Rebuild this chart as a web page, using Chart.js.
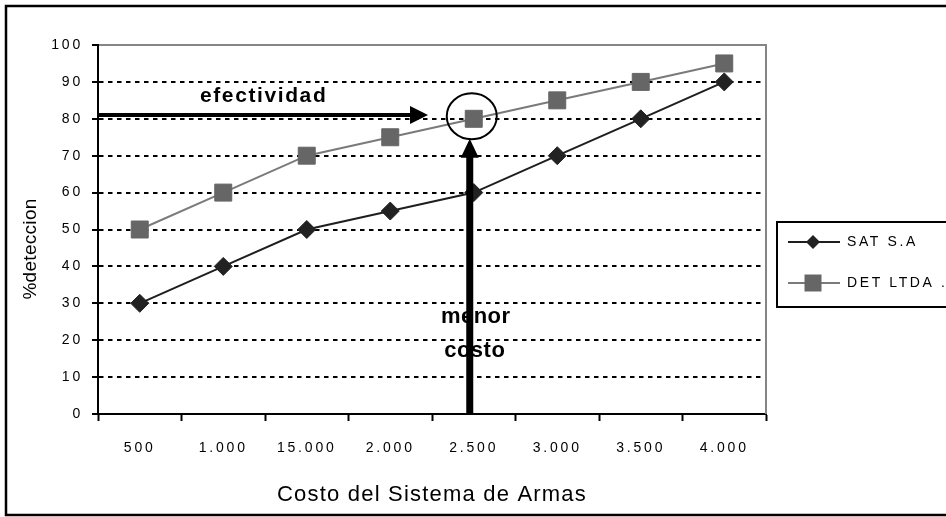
<!DOCTYPE html>
<html>
<head>
<meta charset="utf-8">
<title>%deteccion vs Costo del Sistema de Armas</title>
<script src="https://cdn.jsdelivr.net/npm/chart.js@4.4.1/dist/chart.umd.min.js"></script>
<style>
  html, body { margin: 0; padding: 0; background: #fff; }
  canvas { display: block; }
</style>
</head>
<body>
<canvas id="grafico" width="946" height="517"></canvas>
<script>
// --- datos ---
var COSTOS = ['500', '1.000', '15.000', '2.000', '2.500', '3.000', '3.500', '4.000'];
var SAT = [30, 40, 50, 55, 60, 70, 80, 90];
var DET = [50, 60, 70, 75, 80, 85, 90, 95];
var SERIES = ['SAT S.A', 'DET LTDA .'];
var Y_MIN = 0, Y_MAX = 100, Y_PASO = 10;

var FONT = '"Liberation Sans", Arial, Helvetica, sans-serif';

function texto(ctx, t, x, y, font, sp, align, base) {
    ctx.font = font;
    ctx.letterSpacing = sp + 'px';
    ctx.textAlign = align;
    ctx.textBaseline = base;
    ctx.fillStyle = '#000';
    ctx.fillText(t, x, y);
}

// tick labels of the original are letter-spaced
var espaciado = {
    id: 'espaciado',
    beforeDraw: function (chart) { chart.ctx.letterSpacing = '2.8px'; },
    afterDraw: function (chart) { chart.ctx.letterSpacing = '0px'; }
};

var marco = {
    id: 'marco',
    beforeDatasetsDraw: function (chart) {
        var ctx = chart.ctx, a = chart.chartArea;
        ctx.save();
        ctx.strokeStyle = '#858585';
        ctx.lineWidth = 2;
        ctx.beginPath();
        ctx.moveTo(a.left + 1, a.top);
        ctx.lineTo(a.right, a.top);
        ctx.lineTo(a.right, a.bottom);
        ctx.stroke();
        ctx.restore();
    },
    afterDatasetsDraw: function (chart) {
        var ctx = chart.ctx, a = chart.chartArea;
        var xs = chart.scales.x, ys = chart.scales.y;
        var cx = xs.getPixelForValue(4), cy = ys.getPixelForValue(80);
        ctx.save();
        // etiquetas de las flechas
        texto(ctx, 'efectividad', 200, 102, 'bold 21px ' + FONT, 1.6, 'left', 'alphabetic');
        texto(ctx, 'menor', cx + 2, 323, 'bold 22px ' + FONT, 0.5, 'center', 'alphabetic');
        texto(ctx, 'costo', cx + 1, 357, 'bold 22px ' + FONT, 0.5, 'center', 'alphabetic');
        ctx.fillStyle = '#000';
        ctx.strokeStyle = '#000';
        // flecha horizontal
        var hy = ys.getPixelForValue(81);
        ctx.lineWidth = 4;
        ctx.beginPath();
        ctx.moveTo(a.left, hy);
        ctx.lineTo(412, hy);
        ctx.stroke();
        ctx.beginPath();
        ctx.moveTo(410, hy - 9);
        ctx.lineTo(428, hy);
        ctx.lineTo(410, hy + 9);
        ctx.closePath();
        ctx.fill();
        // flecha vertical
        var vx = cx - 4;
        ctx.lineWidth = 7;
        ctx.beginPath();
        ctx.moveTo(vx, a.bottom - 1);
        ctx.lineTo(vx, cy + 36);
        ctx.stroke();
        ctx.beginPath();
        ctx.moveTo(vx - 9, cy + 39);
        ctx.lineTo(vx, cy + 20);
        ctx.lineTo(vx + 9, cy + 39);
        ctx.closePath();
        ctx.fill();
        // circulo
        ctx.lineWidth = 2;
        ctx.beginPath();
        ctx.ellipse(cx - 2, cy - 2.5, 25, 23, 0, 0, Math.PI * 2);
        ctx.stroke();
        ctx.restore();
    },
    afterDraw: function (chart) {
        var ctx = chart.ctx, a = chart.chartArea;
        ctx.save();
        // titulos de ejes
        texto(ctx, 'Costo del Sistema de Armas', (a.left + a.right) / 2, 501, '22px ' + FONT, 1.2, 'center', 'alphabetic');
        ctx.translate(31, 249);
        ctx.rotate(-Math.PI / 2);
        texto(ctx, '%deteccion', 0, 0, '19px ' + FONT, 0.3, 'center', 'middle');
        ctx.setTransform(1, 0, 0, 1, 0, 0);
        // leyenda
        ctx.strokeStyle = '#000';
        ctx.lineWidth = 2;
        ctx.strokeRect(777, 222, 200, 85);
        chart.data.datasets.forEach(function (ds, i) {
            var y = 242 + i * 41;
            ctx.strokeStyle = ds.borderColor;
            ctx.lineWidth = 2;
            ctx.beginPath();
            ctx.moveTo(788, y);
            ctx.lineTo(840, y);
            ctx.stroke();
            ctx.fillStyle = ds.pointBackgroundColor;
            ctx.beginPath();
            if (ds.pointStyle === 'rectRot') {
                ctx.moveTo(813, y - 7);
                ctx.lineTo(820, y);
                ctx.lineTo(813, y + 7);
                ctx.lineTo(806, y);
            } else {
                ctx.rect(804.5, y - 8.5, 17, 17);
            }
            ctx.closePath();
            ctx.fill();
            texto(ctx, ds.label, 847, y, '14px ' + FONT, 2.6, 'left', 'middle');
        });
        // marco exterior
        ctx.strokeStyle = '#000';
        ctx.lineWidth = 2.5;
        ctx.strokeRect(6, 6, 1000, 509);
        ctx.restore();
    }
};

new Chart(document.getElementById('grafico').getContext('2d'), {
    type: 'line',
    data: {
        labels: COSTOS,
        datasets: [{
            label: SERIES[0],
            data: SAT,
            borderColor: '#1e1e1e',
            borderWidth: 2,
            pointStyle: 'rectRot',
            pointRadius: 9,
            pointBackgroundColor: '#222',
            pointBorderColor: '#222',
            pointBorderWidth: 1,
            tension: 0
        }, {
            label: SERIES[1],
            data: DET,
            borderColor: '#7a7a7a',
            borderWidth: 2,
            pointStyle: 'rect',
            pointRadius: 12,
            pointBackgroundColor: '#666',
            pointBorderColor: '#666',
            pointBorderWidth: 1,
            tension: 0
        }]
    },
    options: {
        responsive: false,
        animation: false,
        devicePixelRatio: 1,
        layout: { padding: { left: 0, top: 45, right: 180, bottom: 0 } },
        plugins: {
            legend: { display: false },
            tooltip: { enabled: false },
            title: { display: false }
        },
        scales: {
            x: {
                offset: true,
                grid: { offset: true, drawOnChartArea: false, drawTicks: true, tickLength: 7, tickWidth: 2, tickColor: '#000' },
                border: { display: true, color: '#000', width: 2 },
                ticks: { color: '#000', font: { family: FONT, size: 14 }, padding: 19, maxRotation: 0, autoSkip: false },
                afterFit: function (s) { s.height = 103; }
            },
            y: {
                min: Y_MIN,
                max: Y_MAX,
                grid: {
                    color: function (c) { return (c.tick.value === Y_MIN || c.tick.value === Y_MAX) ? 'rgba(0,0,0,0)' : '#000'; },
                    lineWidth: 2,
                    tickLength: 6,
                    tickWidth: 2,
                    tickColor: '#000',
                    tickBorderDash: []
                },
                border: { display: true, color: '#000', width: 2, dash: [4.5, 4.5] },
                ticks: { stepSize: Y_PASO, color: '#000', font: { family: FONT, size: 14 }, padding: 9 },
                afterFit: function (s) { s.width = 98; }
            }
        }
    },
    plugins: [espaciado, marco]
});
</script>
</body>
</html>
